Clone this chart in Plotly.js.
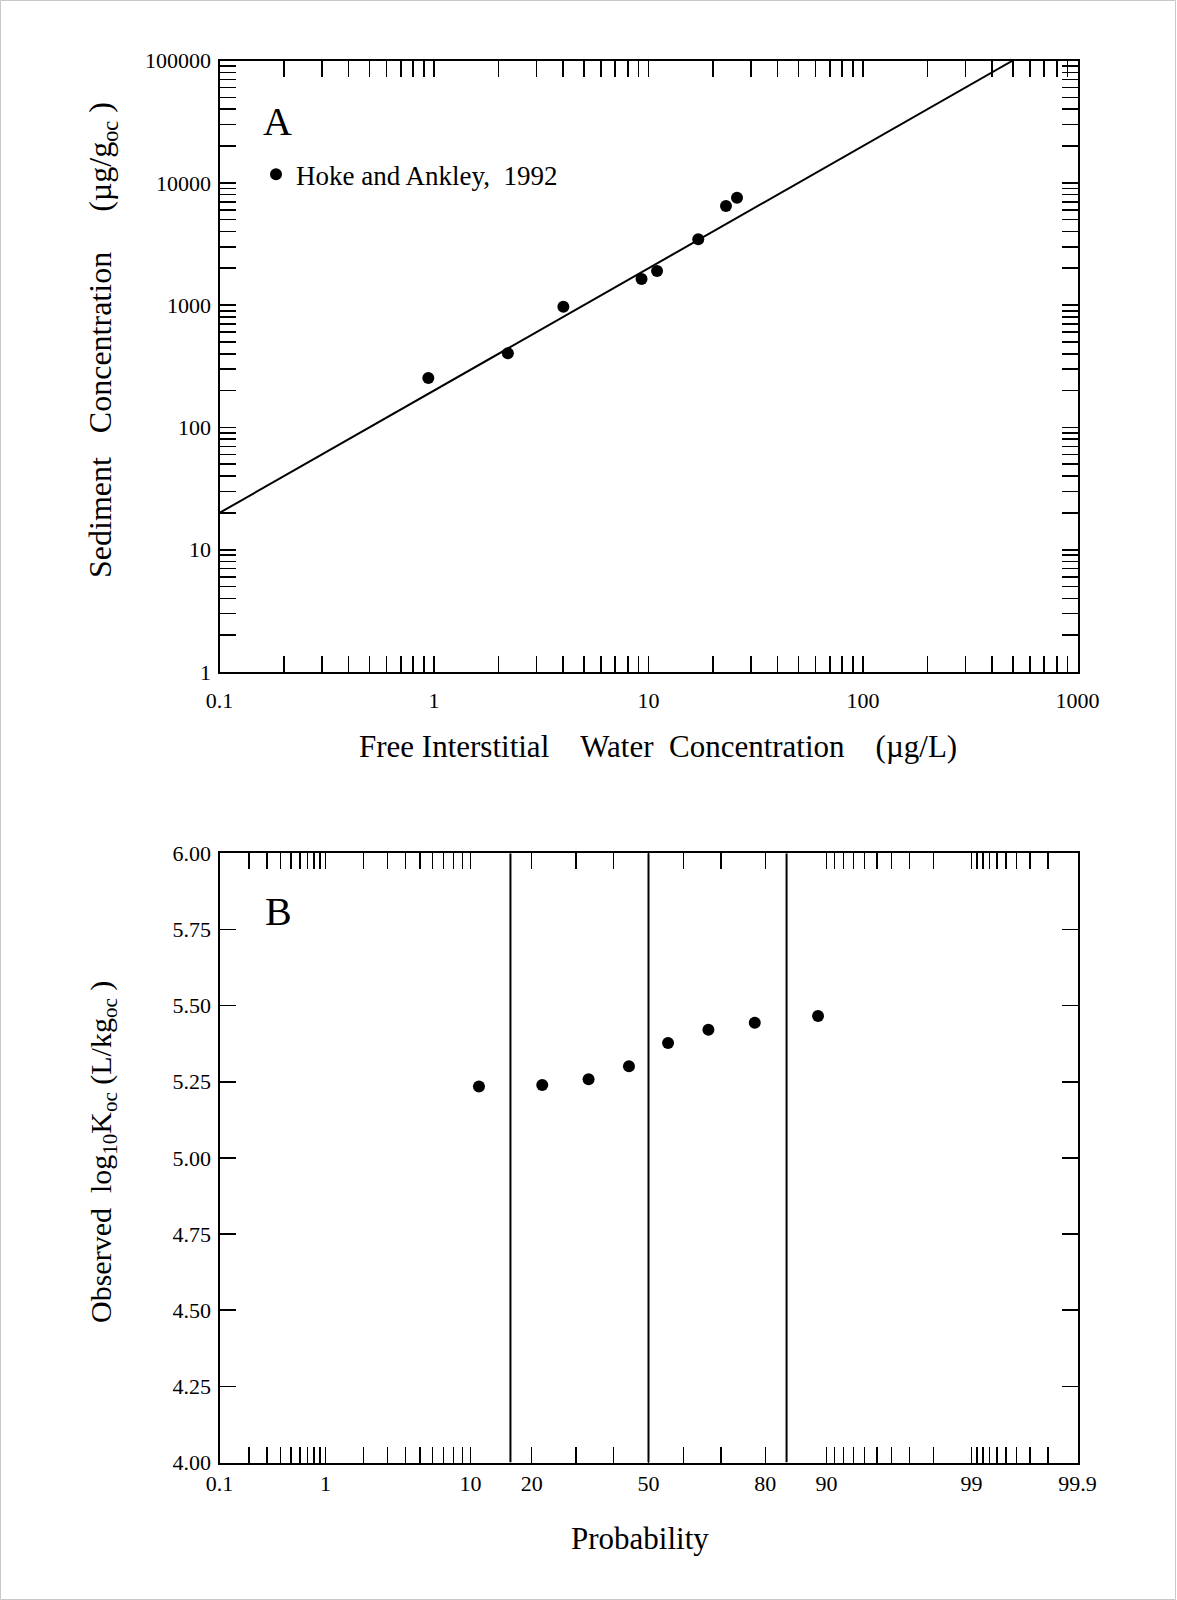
<!DOCTYPE html>
<html>
<head>
<meta charset="utf-8">
<script src="https://cdn.plot.ly/plotly-3.0.1.min.js"></script>
<style>html,body{margin:0;padding:0;background:#fff;}#chart{width:1177px;height:1600px;}</style>
</head>
<body>
<div id="chart"></div>
<script>
// ---------- Panel A data ----------
const waterConc = [0.941, 2.21, 4.01, 9.28, 10.96, 17.06, 22.97, 25.86];      // µg/L
const sedimentConc = [253.5, 403.6, 970, 1634, 1900, 3452, 6460, 7555];    // µg/g_oc
const fitLineX = [0.1, 500];
const fitLineY = [20, 100000];
const seriesName = 'Hoke and Ankley,\u00a0\u00a01992';

// ---------- Panel B data ----------
const probability = [11.1, 22.2, 33.3, 44.4, 55.6, 66.7, 77.8, 88.9];      // %
const logKoc = [5.2345, 5.239, 5.258, 5.301, 5.377, 5.421, 5.444, 5.466];
const refLineProb = [16, 50, 84];

// ---------- Tick labels ----------
const logXDecades = [0.1, 1, 10, 100, 1000];
const logXLabels = ['0.1', '1', '10', '100', '1000'];
const logYDecades = [1, 10, 100, 1000, 10000, 100000];
const logYLabels = ['1', '10', '100', '1000', '10000', '100000'];
const minorMult = [1, 2, 3, 4, 5, 6, 7, 8, 9];
const probTicks = [0.1,0.2,0.3,0.4,0.5,0.6,0.7,0.8,0.9,1,2,3,4,5,6,7,8,9,10,20,30,40,50,60,70,80,90,91,92,93,94,95,96,97,98,99,99.1,99.2,99.3,99.4,99.5,99.6,99.7,99.8,99.9];
const probLabelVals = [0.1, 1, 10, 20, 50, 80, 90, 99, 99.9];
const probLabels = ['0.1', '1', '10', '20', '50', '80', '90', '99', '99.9'];

// normal-probability scale (inverse normal CDF, Acklam)
function probit(pct) {
  const p = pct / 100;
  const a = [-3.969683028665376e+01, 2.209460984245205e+02, -2.759285104469687e+02, 1.383577518672690e+02, -3.066479806614716e+01, 2.506628277459239e+00];
  const b = [-5.447609879822406e+01, 1.615858368580409e+02, -1.556989798598866e+02, 6.680131188771972e+01, -1.328068155288572e+01];
  const c = [-7.784894002430293e-03, -3.223964580411365e-01, -2.400758277161838e+00, -2.549671743471879e+00, 4.374664141464968e+00, 2.938163982698783e+00];
  const d = [7.784695709041462e-03, 3.224671290700398e-01, 2.445134137142996e+00, 3.754408661907416e+00];
  const plow = 0.02425, phigh = 1 - plow;
  let q, r;
  if (p < plow) {
    q = Math.sqrt(-2 * Math.log(p));
    return (((((c[0]*q+c[1])*q+c[2])*q+c[3])*q+c[4])*q+c[5]) / ((((d[0]*q+d[1])*q+d[2])*q+d[3])*q+1);
  } else if (p <= phigh) {
    q = p - 0.5; r = q*q;
    return (((((a[0]*r+a[1])*r+a[2])*r+a[3])*r+a[4])*r+a[5])*q / (((((b[0]*r+b[1])*r+b[2])*r+b[3])*r+b[4])*r+1);
  } else {
    q = Math.sqrt(-2 * Math.log(1 - p));
    return -(((((c[0]*q+c[1])*q+c[2])*q+c[3])*q+c[4])*q+c[5]) / ((((d[0]*q+d[1])*q+d[2])*q+d[3])*q+1);
  }
}

function logTicks(decades, labels) {
  const vals = [], text = [];
  decades.forEach((dec, i) => {
    if (i === decades.length - 1) { vals.push(dec); text.push(labels[i]); return; }
    minorMult.forEach(m => { vals.push(dec * m); text.push(m === 1 ? labels[i] : ''); });
  });
  return {vals, text};
}
const xT = logTicks(logXDecades, logXLabels);
const yT = logTicks(logYDecades, logYLabels);
const pVals = probTicks.map(probit);
const pText = probTicks.map(v => { const k = probLabelVals.indexOf(v); return k >= 0 ? probLabels[k] : ''; });

const FONT = 'Liberation Serif, Times New Roman, serif';
const W = 1177, H = 1600;
const px = v => v / W, py = v => 1 - v / H;
const NB = n => '\u00a0'.repeat(n);

const axisBase = {
  showline: true, linecolor: '#000', linewidth: 2, mirror: 'ticks',
  ticks: 'inside', ticklen: 16, tickwidth: 1.6, tickcolor: '#000',
  showgrid: false, zeroline: false,
  tickfont: {family: FONT, size: 22, color: '#000'}
};

const traces = [
  {x: fitLineX, y: fitLineY, xaxis: 'x', yaxis: 'y', mode: 'lines',
   line: {color: '#000', width: 2}, showlegend: false, hoverinfo: 'skip'},
  {x: waterConc, y: sedimentConc, xaxis: 'x', yaxis: 'y', mode: 'markers', name: seriesName,
   marker: {color: '#000', size: 12}, showlegend: true},
];
refLineProb.forEach(p => {
  traces.push({x: [probit(p), probit(p)], y: [4, 6], xaxis: 'x2', yaxis: 'y2', mode: 'lines',
    line: {color: '#000', width: 2}, showlegend: false, hoverinfo: 'skip'});
});
traces.push({x: probability.map(probit), y: logKoc, xaxis: 'x2', yaxis: 'y2', mode: 'markers',
  marker: {color: '#000', size: 12}, showlegend: false});

const xDom = [px(219.5), px(1077.5)];
const layout = {
  width: W, height: H,
  margin: {l: 0, r: 0, t: 0, b: 0},
  paper_bgcolor: '#fff', plot_bgcolor: '#fff',
  font: {family: FONT, color: '#000'},
  xaxis: Object.assign({}, axisBase, {domain: xDom, anchor: 'y', type: 'log', range: [-1, 3],
    tickmode: 'array', tickvals: xT.vals, ticktext: xT.text, ticklabelstandoff: 8}),
  yaxis: Object.assign({}, axisBase, {domain: [py(672), py(60.5)], anchor: 'x', type: 'log', range: [0, 5],
    tickmode: 'array', tickvals: yT.vals, ticktext: yT.text, ticklabelstandoff: 2}),
  xaxis2: Object.assign({}, axisBase, {domain: xDom, anchor: 'y2', range: [probit(0.1), probit(99.9)],
    tickmode: 'array', tickvals: pVals, ticktext: pText, ticklabelstandoff: 0}),
  yaxis2: Object.assign({}, axisBase, {domain: [py(1462.5), py(853.3)], anchor: 'x2', range: [4, 6],
    dtick: 0.25, tick0: 4, tickformat: '.2f', ticklabelstandoff: 2}),
  showlegend: true,
  legend: {x: px(256), y: py(174.6), xanchor: 'left', yanchor: 'middle', bgcolor: 'rgba(0,0,0,0)',
    font: {family: FONT, size: 27, color: '#000'}},
  annotations: [
    {text: 'A', x: px(277), y: py(121), xref: 'paper', yref: 'paper', showarrow: false,
     font: {family: FONT, size: 40, color: '#000'}, xanchor: 'center', yanchor: 'middle'},
    {text: 'B', x: px(278), y: py(912), xref: 'paper', yref: 'paper', showarrow: false,
     font: {family: FONT, size: 40, color: '#000'}, xanchor: 'center', yanchor: 'middle'},
    {text: 'Free Interstitial' + NB(4) + 'Water' + NB(2) + 'Concentration' + NB(4) + '(µg/L)',
     x: px(658), y: py(746), xref: 'paper', yref: 'paper', showarrow: false,
     font: {family: FONT, size: 31, color: '#000'}, xanchor: 'center', yanchor: 'middle'},
    {text: 'Sediment' + NB(3) + 'Concentration' + NB(5) + '(µg/g<sub>oc</sub>' + NB(1) + ')',
     x: px(102), y: py(340), xref: 'paper', yref: 'paper', showarrow: false, textangle: -90,
     font: {family: FONT, size: 32, color: '#000'}, xanchor: 'center', yanchor: 'middle'},
    {text: 'Observed' + NB(2) + 'log<sub>10</sub>K<sub>oc</sub>' + NB(1) + '(L/kg<sub>oc</sub>' + NB(1) + ')',
     x: px(103), y: py(1152), xref: 'paper', yref: 'paper', showarrow: false, textangle: -90,
     font: {family: FONT, size: 30, color: '#000'}, xanchor: 'center', yanchor: 'middle'},
    {text: 'Probability', x: px(640), y: py(1538), xref: 'paper', yref: 'paper', showarrow: false,
     font: {family: FONT, size: 31, color: '#000'}, xanchor: 'center', yanchor: 'middle'}
  ],
  shapes: [
    {type: 'rect', xref: 'paper', yref: 'paper', x0: px(0.5), x1: px(1175.5), y0: py(1599.5), y1: py(0.5),
     line: {color: '#c8c8c8', width: 1}, layer: 'below'}
  ]
};

Plotly.newPlot('chart', traces, layout, {staticPlot: true, displayModeBar: false});
</script>
</body>
</html>
